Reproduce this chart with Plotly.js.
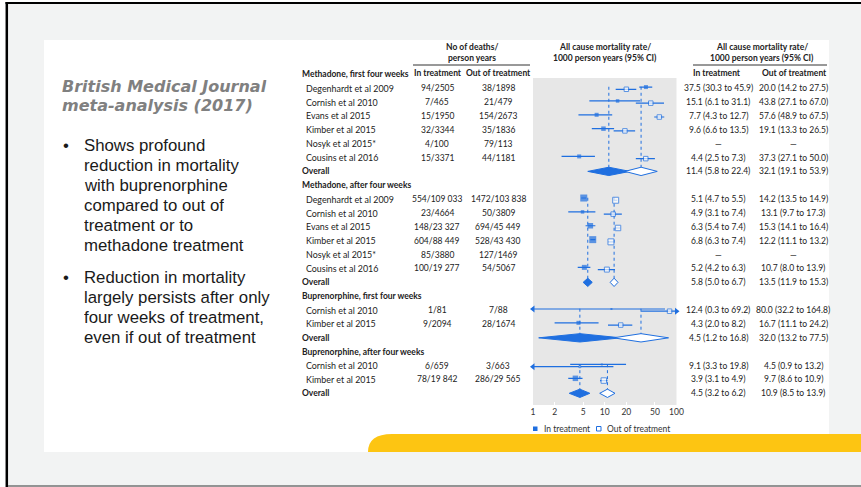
<!DOCTYPE html>
<html>
<head>
<meta charset="utf-8">
<script src="https://cdn.plot.ly/plotly-3.0.1.min.js"></script>
<style>
  html, body { margin: 0; padding: 0; background: #ffffff; }
  #chart { width: 861px; height: 487px; }
</style>
</head>
<body>
<div id="chart"></div>
<script>
// ---- Data -------------------------------------------------------------
const groupNames = [
  'Methadone, first four weeks',
  'Methadone, after four weeks',
  'Buprenorphine, first four weeks',
  'Buprenorphine, after four weeks'
];
const studyNames = [
  ['Degenhardt et al 2009', 'Cornish et al 2010', 'Evans et al 2015', 'Kimber et al 2015', 'Nosyk et al 2015*', 'Cousins et al 2016'],
  ['Degenhardt et al 2009', 'Cornish et al 2010', 'Evans et al 2015', 'Kimber et al 2015', 'Nosyk et al 2015*', 'Cousins et al 2016'],
  ['Cornish et al 2010', 'Kimber et al 2015'],
  ['Cornish et al 2010', 'Kimber et al 2015']
];
const deathsIn = [
  ['94/2505', '7/465', '15/1950', '32/3344', '4/100', '15/3371'],
  ['554/109 033', '23/4664', '148/23 327', '604/88 449', '85/3880', '100/19 277'],
  ['1/81', '9/2094'],
  ['6/659', '78/19 842']
];
const deathsOut = [
  ['38/1898', '21/479', '154/2673', '35/1836', '79/113', '44/1181'],
  ['1472/103 838', '50/3809', '694/45 449', '528/43 430', '127/1469', '54/5067'],
  ['7/88', '28/1674'],
  ['3/663', '286/29 565']
];
// mortality rate per 1000 person years: [estimate, lower 95% CI, upper 95% CI]
const rateIn = [
  [[37.5, 30.3, 45.9], [15.1, 6.1, 31.1], [7.7, 4.3, 12.7], [9.6, 6.6, 13.5], null, [4.4, 2.5, 7.3]],
  [[5.1, 4.7, 5.5], [4.9, 3.1, 7.4], [6.3, 5.4, 7.4], [6.8, 6.3, 7.4], null, [5.2, 4.2, 6.3]],
  [[12.4, 0.3, 69.2], [4.3, 2.0, 8.2]],
  [[9.1, 3.3, 19.8], [3.9, 3.1, 4.9]]
];
const rateOut = [
  [[20.0, 14.2, 27.5], [43.8, 27.1, 67.0], [57.6, 48.9, 67.5], [19.1, 13.3, 26.5], null, [37.3, 27.1, 50.0]],
  [[14.2, 13.5, 14.9], [13.1, 9.7, 17.3], [15.3, 14.1, 16.4], [12.2, 11.1, 13.2], null, [10.7, 8.0, 13.9]],
  [[80.0, 32.2, 164.8], [16.7, 11.1, 24.2]],
  [[4.5, 0.9, 13.2], [9.7, 8.6, 10.9]]
];
const overallIn = [[11.4, 5.8, 22.4], [5.8, 5.0, 6.7], [4.5, 1.2, 16.8], [4.5, 3.2, 6.2]];
const overallOut = [[32.1, 19.1, 53.9], [13.5, 11.9, 15.3], [32.0, 13.2, 77.5], [10.9, 8.5, 13.9]];

const tickVals = [1, 2, 5, 10, 20, 50, 100];
const tickText = ['1', '2', '5', '10', '20', '50', '100'];

const summaryTitle = ['British Medical Journal', 'meta-analysis (2017)'];
const bullets = [
  ['Shows profound', 'reduction in mortality', 'with buprenorphine', 'compared to out of', 'treatment or to', 'methadone treatment'],
  ['Reduction in mortality', 'largely persists after only', 'four weeks of treatment,', 'even if out of treatment']
];

// ---- Styling (box sizes reflect study weight) -------------------------
const boxInPx = [[4, 3.5, 4, 4.5, 0, 4], [7, 3.5, 5.5, 7, 0, 5], [2, 4], [2, 5.5]];
const boxOutPx = [[4.5, 4.5, 4.5, 4.5, 0, 4.5], [6, 4.5, 5.5, 6, 0, 5], [4.5, 4.5], [2, 5.5]];

const W = 861, H = 487;
const BLUE = '#1f6fe0';
const INK = '#222222';
const TABLE_FONT = 'Lato, "Noto Sans", sans-serif';
const rowTop = 74.3, rowStep = 13.87;   // pixel centre of first row, row pitch
const fx = p => p / W;
const fy = p => 1 - p / H;

// ---- Row layout --------------------------------------------------------
const headerRow = [], studyRow = [], overallRow = [];
let r = 0;
groupNames.forEach((g, gi) => {
  headerRow.push(r++);
  studyRow.push(studyNames[gi].map(() => r++));
  overallRow.push(r++);
});

const xmin = tickVals[0], xmax = tickVals[tickVals.length - 1];
const offIn = -0.08, offOut = 0.08, dh = 0.3;

// ---- Traces ------------------------------------------------------------
const traces = [];

function guideTrace(overall) {
  const x = [], y = [];
  overall.forEach((v, gi) => {
    x.push(v[0], v[0], null);
    y.push(studyRow[gi][0] - 0.1, overallRow[gi] - dh * 0.6, null);
  });
  return { type: 'scatter', mode: 'lines', x, y, hoverinfo: 'skip', showlegend: false,
           line: { color: BLUE, width: 1, dash: 'dot' } };
}

function ciTrace(rates, off) {
  const x = [], y = [];
  rates.forEach((grp, gi) => grp.forEach((v, si) => {
    if (!v) return;
    const yy = studyRow[gi][si] + off;
    x.push(Math.max(v[1], xmin), Math.min(v[2], xmax), null);
    y.push(yy, yy, null);
  }));
  return { type: 'scatter', mode: 'lines', x, y, hoverinfo: 'skip', showlegend: false,
           cliponaxis: false, line: { color: BLUE, width: 1.2 } };
}

function arrowTrace(rates, off) {
  const x = [], y = [], sym = [];
  rates.forEach((grp, gi) => grp.forEach((v, si) => {
    if (!v) return;
    const yy = studyRow[gi][si] + off;
    if (v[1] < xmin) { x.push(xmin); y.push(yy); sym.push('triangle-left'); }
    if (v[2] > xmax) { x.push(xmax); y.push(yy); sym.push('triangle-right'); }
  }));
  return { type: 'scatter', mode: 'markers', x, y, hoverinfo: 'skip', showlegend: false,
           cliponaxis: false, marker: { symbol: sym, size: 6, color: BLUE, line: { width: 0 } } };
}

function boxTrace(rates, off, sizes, filled) {
  const x = [], y = [], s = [];
  rates.forEach((grp, gi) => grp.forEach((v, si) => {
    if (!v) return;
    x.push(v[0]); y.push(studyRow[gi][si] + off); s.push(sizes[gi][si]);
  }));
  return { type: 'scatter', mode: 'markers', x, y, hoverinfo: 'skip', showlegend: false,
           cliponaxis: false,
           marker: { symbol: 'square', size: s, color: filled ? BLUE : '#ffffff',
                     line: { color: BLUE, width: filled ? 0 : 1 } } };
}

function diamondTraces(overall, filled) {
  return overall.map((v, gi) => {
    const rr = overallRow[gi];
    return { type: 'scatter', mode: 'lines', hoverinfo: 'skip', showlegend: false,
             x: [v[1], v[0], v[2], v[0], v[1]],
             y: [rr, rr - dh, rr, rr + dh, rr],
             fill: 'toself', fillcolor: filled ? BLUE : '#ffffff',
             line: { color: BLUE, width: 1 } };
  });
}

traces.push(guideTrace(overallIn), guideTrace(overallOut));
traces.push(ciTrace(rateIn, offIn), ciTrace(rateOut, offOut));
traces.push(arrowTrace(rateIn, offIn), arrowTrace(rateOut, offOut));
traces.push(boxTrace(rateIn, offIn, boxInPx, true), boxTrace(rateOut, offOut, boxOutPx, false));
traces.push(...diamondTraces(overallIn, true), ...diamondTraces(overallOut, false));

// ---- Text --------------------------------------------------------------
const ann = [];
function tRow(text, xpx, row, anchor, bold, size) {
  ann.push({ text, x: fx(xpx), xref: 'paper', y: row, yref: 'y', xanchor: anchor, yanchor: 'middle',
             showarrow: false, borderpad: 0,
             font: { family: TABLE_FONT, size: size || 8.5, color: INK, weight: bold ? 700 : 400 } });
}
function tPx(text, xpx, ypx, anchor, font, boxH) {
  const a = { text, x: fx(xpx), xref: 'paper', y: fy(ypx), yref: 'paper', xanchor: anchor, yanchor: 'middle',
              showarrow: false, borderpad: 0, font };
  if (boxH) a.height = boxH;
  ann.push(a);
}
const fmt = v => v ? `${v[0].toFixed(1)} (${v[1].toFixed(1)} to ${v[2].toFixed(1)})` : '\u2014';

groupNames.forEach((g, gi) => {
  tRow(g, 301, headerRow[gi], 'left', true);
  studyNames[gi].forEach((s, si) => {
    const row = studyRow[gi][si];
    tRow(s, 305, row, 'left', false, 8.9);
    tRow(deathsIn[gi][si], 437, row, 'center', false);
    tRow(deathsOut[gi][si], 498, row, 'center', false);
    tRow(fmt(rateIn[gi][si]), 718, row, 'center', false);
    tRow(fmt(rateOut[gi][si]), 793, row, 'center', false);
  });
  tRow('Overall', 301, overallRow[gi], 'left', true);
  tRow(fmt(overallIn[gi]), 718, overallRow[gi], 'center', false);
  tRow(fmt(overallOut[gi]), 793, overallRow[gi], 'center', false);
});

const hdr = { family: TABLE_FONT, size: 8.5, color: INK, weight: 700 };
tPx('No of deaths/', 472, 47, 'center', hdr);
tPx('person years', 472, 58, 'center', hdr);
tPx('In treatment', 438, 72.5, 'center', hdr);
tPx('Out of treatment', 498, 72.5, 'center', hdr);
tPx('All cause mortality rate/', 605, 47, 'center', hdr);
tPx('1000 person years (95% CI)', 605, 58, 'center', hdr);
tPx('All cause mortality rate/', 762, 47, 'center', hdr);
tPx('1000 person years (95% CI)', 762, 58, 'center', hdr);
tPx('In treatment', 717, 72.5, 'center', hdr);
tPx('Out of treatment', 794, 72.5, 'center', hdr);

// legend
const legFont = { family: TABLE_FONT, size: 8.5, color: '#333333' };
tPx('In treatment', 543, 428.5, 'left', legFont);
tPx('Out of treatment', 606, 428.5, 'left', legFont);

// left-hand summary
const titleFont = { family: '"DejaVu Sans", sans-serif', size: 16, color: '#808080', weight: 700, style: 'italic' };
summaryTitle.forEach((line, i) => tPx(line, 61, 86 + 19 * i, 'left', titleFont, 19));
const bodyFont = { family: '"Liberation Sans", Arial, sans-serif', size: 16.8, color: '#1a1a1a' };
const bulletTop = [145, 277];
bullets.forEach((lines, bi) => {
  tPx('\u2022', 62, bulletTop[bi], 'left', bodyFont, 20);
  lines.forEach((line, li) => tPx(line, 83, bulletTop[bi] + 20 * li, 'left', bodyFont, 20));
});

// ---- Shapes ------------------------------------------------------------
const rect = (x0, y0, x1, y1, fill) => ({ type: 'rect', xref: 'paper', yref: 'paper', layer: 'below',
  x0: fx(x0), x1: fx(x1), y0: fy(y1), y1: fy(y0), fillcolor: fill, line: { width: 0 } });
const seg = (x0, y0, x1, y1, color, width) => ({ type: 'line', xref: 'paper', yref: 'paper', layer: 'below',
  x0: fx(x0), x1: fx(x1), y0: fy(y0), y1: fy(y1), line: { color, width } });

const shapes = [
  rect(8, 4, 861, 485.5, '#f2f3f3'),
  rect(44, 40, 829, 452, '#ffffff'),
  { type: 'path', xref: 'paper', yref: 'paper', layer: 'below', fillcolor: '#fdc512', line: { width: 0 },
    path: `M ${fx(368)},${fy(452)} Q ${fx(368)},${fy(434)} ${fx(392)},${fy(434)} L ${fx(861)},${fy(434)} L ${fx(861)},${fy(452)} Z` },
  rect(533, 78, 676.5, 405, '#e7e7e7'),
  seg(6.8, 2, 6.8, 487, '#000000', 2.5),
  seg(5.5, 3, 861, 3, '#000000', 2),
  seg(8, 486, 861, 486, '#707070', 1.5),
  seg(413, 65, 530, 65, '#333333', 1),
  seg(693, 65, 827, 65, '#333333', 1),
  // legend keys
  { type: 'rect', xref: 'paper', yref: 'paper', x0: fx(533), x1: fx(537.5), y0: fy(431), y1: fy(426.5),
    fillcolor: BLUE, line: { width: 0 } },
  { type: 'rect', xref: 'paper', yref: 'paper', x0: fx(596.5), x1: fx(601), y0: fy(431), y1: fy(426.5),
    fillcolor: '#ffffff', line: { color: BLUE, width: 1 } }
];

// ---- Layout ------------------------------------------------------------
const layout = {
  width: W, height: H,
  margin: { l: 0, r: 0, t: 0, b: 0 },
  paper_bgcolor: '#ffffff',
  plot_bgcolor: 'rgba(0,0,0,0)',
  showlegend: false,
  xaxis: {
    type: 'log', range: [Math.log10(xmin), Math.log10(xmax)], autorange: false,
    domain: [fx(533), fx(676.5)], anchor: 'free', position: fy(405),
    tickvals: tickVals, ticktext: tickText,
    ticks: 'inside', ticklen: 3, tickcolor: '#ffffff', tickwidth: 1,
    tickfont: { family: TABLE_FONT, size: 8.5, color: '#333333' },
    showgrid: false, zeroline: false, showline: false, fixedrange: true
  },
  yaxis: {
    domain: [0, 1], autorange: false,
    range: [(H - rowTop) / rowStep, -rowTop / rowStep],
    visible: false, showgrid: false, zeroline: false, fixedrange: true
  },
  annotations: ann,
  shapes
};

Plotly.newPlot('chart', traces, layout, { displayModeBar: false, staticPlot: true });
</script>
</body>
</html>
